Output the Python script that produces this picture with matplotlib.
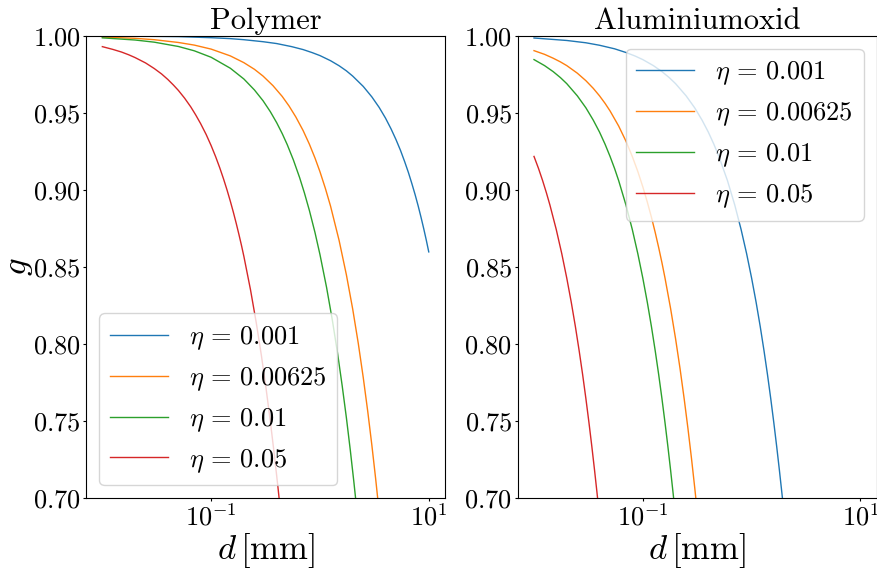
import matplotlib

matplotlib.use("Agg")
import matplotlib.pyplot as plt
from matplotlib.ticker import NullLocator

plt.rcParams.update({
    "font.family": "serif",
    "font.serif": ["cmr10"],
    "mathtext.fontset": "cm",
    "axes.formatter.use_mathtext": True,
    "axes.unicode_minus": False,
})

ETA_LABELS = ["0.001", "0.00625", "0.01", "0.05"]

# Polymer -- d [mm] und g
poly_d_0001 = [0.01, 0.02, 0.05, 0.1, 0.15, 0.2, 0.3, 0.4, 0.55, 0.7, 0.85, 1.0, 1.25,
               1.5, 1.75, 2.0, 2.5, 3.0, 3.5, 4.0, 4.5, 5.0, 5.5, 6.0, 6.5, 7.0, 7.5,
               8.0, 8.5, 9.0, 9.5, 10.0]
poly_g_0001 = [0.9999, 0.9997, 0.9994, 0.9987, 0.9981, 0.9974, 0.9961, 0.9949, 0.9929,
               0.9910, 0.9890, 0.9871, 0.9838, 0.9805, 0.9772, 0.9738, 0.9671, 0.9603,
               0.9535, 0.9466, 0.9396, 0.9326, 0.9256, 0.9184, 0.9113, 0.9040, 0.8968,
               0.8895, 0.8821, 0.8747, 0.8673, 0.8598]
poly_d_000625 = [0.01, 0.02, 0.03, 0.05, 0.07, 0.1, 0.15, 0.2, 0.25, 0.3, 0.37, 0.45,
                 0.52, 0.6, 0.7, 0.8, 0.9, 1.0, 1.12, 1.25, 1.5, 1.75, 2.0, 2.25, 2.5,
                 2.75, 3.0, 3.25, 3.5, 3.75]
poly_g_000625 = [0.9991, 0.9983, 0.9974, 0.9956, 0.9939, 0.9913, 0.9869, 0.9825, 0.9782,
                 0.9738, 0.9676, 0.9606, 0.9544, 0.9473, 0.9385, 0.9296, 0.9207, 0.9118,
                 0.9011, 0.8896, 0.8672, 0.8449, 0.8227, 0.8005, 0.7783, 0.7563, 0.7344,
                 0.7127, 0.6911, 0.6698]
poly_d_001 = [0.01, 0.02, 0.03, 0.05, 0.07, 0.1, 0.15, 0.2, 0.25, 0.3, 0.35, 0.4, 0.45,
              0.5, 0.57, 0.65, 0.72, 0.8, 0.9, 1.0, 1.15, 1.3, 1.45, 1.6, 1.75, 1.9,
              2.05, 2.2, 2.35]
poly_g_001 = [0.9986, 0.9972, 0.9958, 0.9930, 0.9902, 0.9860, 0.9789, 0.9719, 0.9648,
              0.9578, 0.9507, 0.9436, 0.9365, 0.9294, 0.9194, 0.9080, 0.8980, 0.8866,
              0.8724, 0.8581, 0.8368, 0.8155, 0.7943, 0.7731, 0.7522, 0.7313, 0.7106,
              0.6901, 0.6698]
poly_d_005 = [0.01, 0.0125, 0.015, 0.0175, 0.02, 0.025, 0.03, 0.035, 0.04, 0.045, 0.05,
              0.057, 0.065, 0.072, 0.08, 0.09, 0.1, 0.11, 0.12, 0.13, 0.14, 0.15, 0.16,
              0.17, 0.18, 0.19, 0.2, 0.23, 0.26, 0.29, 0.32, 0.35, 0.38, 0.41, 0.44, 0.47]
poly_g_005 = [0.9929, 0.9911, 0.9894, 0.9876, 0.9858, 0.9823, 0.9787, 0.9752, 0.9716,
              0.9680, 0.9645, 0.9595, 0.9538, 0.9487, 0.9430, 0.9359, 0.9287, 0.9215,
              0.9143, 0.9071, 0.8999, 0.8927, 0.8855, 0.8783, 0.8711, 0.8640, 0.8568,
              0.8352, 0.8137, 0.7923, 0.7710, 0.7498, 0.7288, 0.7080, 0.6873, 0.6669]

# Aluminiumoxid
alox_d_0001 = [0.01, 0.02, 0.03, 0.04, 0.055, 0.07, 0.085, 0.1, 0.125, 0.15, 0.175, 0.2,
               0.25, 0.3, 0.35, 0.4, 0.45, 0.5, 0.6, 0.7, 0.8, 0.9, 1.0, 1.1, 1.2, 1.3,
               1.4, 1.5, 1.6, 1.7, 1.8, 1.9, 2.0, 2.1]
alox_g_0001 = [0.9985, 0.9969, 0.9954, 0.9938, 0.9915, 0.9891, 0.9868, 0.9845, 0.9806,
               0.9767, 0.9728, 0.9689, 0.9610, 0.9532, 0.9453, 0.9375, 0.9296, 0.9217,
               0.9060, 0.8902, 0.8744, 0.8586, 0.8428, 0.8271, 0.8114, 0.7957, 0.7801,
               0.7645, 0.7490, 0.7336, 0.7183, 0.7031, 0.6880, 0.6730]
alox_d_000625 = [0.01, 0.0125, 0.015, 0.0175, 0.02, 0.025, 0.03, 0.035, 0.04, 0.045,
                 0.05, 0.06, 0.07, 0.08, 0.09, 0.1, 0.11, 0.12, 0.13, 0.14, 0.15, 0.16,
                 0.18, 0.2, 0.22, 0.24, 0.26, 0.28, 0.3, 0.32, 0.34]
alox_g_000625 = [0.9903, 0.9879, 0.9854, 0.9830, 0.9806, 0.9757, 0.9708, 0.9659, 0.9610,
                 0.9561, 0.9512, 0.9414, 0.9316, 0.9217, 0.9119, 0.9020, 0.8921, 0.8823,
                 0.8724, 0.8625, 0.8527, 0.8428, 0.8231, 0.8035, 0.7840, 0.7645, 0.7452,
                 0.7260, 0.7069, 0.6880, 0.6692]
alox_d_001 = [0.01, 0.0125, 0.015, 0.0175, 0.02, 0.025, 0.03, 0.035, 0.04, 0.045, 0.05,
              0.055, 0.06, 0.07, 0.08, 0.09, 0.1, 0.11, 0.12, 0.13, 0.14, 0.15, 0.16,
              0.17, 0.18, 0.19, 0.2, 0.21]
alox_g_001 = [0.9845, 0.9806, 0.9767, 0.9728, 0.9689, 0.9610, 0.9532, 0.9453, 0.9375,
              0.9296, 0.9217, 0.9139, 0.9060, 0.8902, 0.8744, 0.8586, 0.8428, 0.8271,
              0.8114, 0.7957, 0.7801, 0.7645, 0.7490, 0.7336, 0.7183, 0.7031, 0.6880,
              0.6730]
alox_d_005 = [0.01, 0.011, 0.012, 0.013, 0.014, 0.016, 0.018, 0.02, 0.022, 0.024, 0.026,
              0.028, 0.03, 0.032, 0.034, 0.036, 0.038, 0.04, 0.042]
alox_g_005 = [0.9217, 0.9139, 0.9060, 0.8981, 0.8902, 0.8744, 0.8586, 0.8428, 0.8271,
              0.8114, 0.7957, 0.7801, 0.7645, 0.7490, 0.7336, 0.7183, 0.7031, 0.6880,
              0.6730]

PANELS = [
    ("Polymer",
     [(poly_d_0001, poly_g_0001), (poly_d_000625, poly_g_000625),
      (poly_d_001, poly_g_001), (poly_d_005, poly_g_005)],
     "lower left"),
    ("Aluminiumoxid",
     [(alox_d_0001, alox_g_0001), (alox_d_000625, alox_g_000625),
      (alox_d_001, alox_g_001), (alox_d_005, alox_g_005)],
     "upper right"),
]

fig = plt.figure(figsize=(8.77, 5.72), dpi=100)
positions = [[0.0981, 0.1288, 0.4094, 0.8088], [0.5903, 0.1288, 0.4094, 0.8088]]

for i, (titel, kurven, loc) in enumerate(PANELS):
    ax = fig.add_axes(positions[i])
    for j, (d, g) in enumerate(kurven):
        ax.plot(d, g, color=f"C{j}", lw=1.0, label=rf"$\eta\,=\,{ETA_LABELS[j]}$")
    ax.set_xscale("log")
    ax.set_xlim(10 ** -2.15, 10 ** 1.15)
    ax.set_ylim(0.70, 1.00)
    ax.set_xticks([1e-1, 1e1])
    ax.xaxis.set_minor_locator(NullLocator())
    ax.tick_params(labelsize=19, length=2.5, pad=1.5)
    ax.set_title(titel, fontsize=22, pad=5)
    ax.set_xlabel(r"$d\,$[mm]", fontsize=25, labelpad=0)
    if i == 0:
        ax.set_ylabel(r"$g$", fontsize=25, labelpad=-2)
    ax.legend(loc=loc, fontsize=19, handlelength=2.2)

fig.savefig("out.png", dpi=100)
